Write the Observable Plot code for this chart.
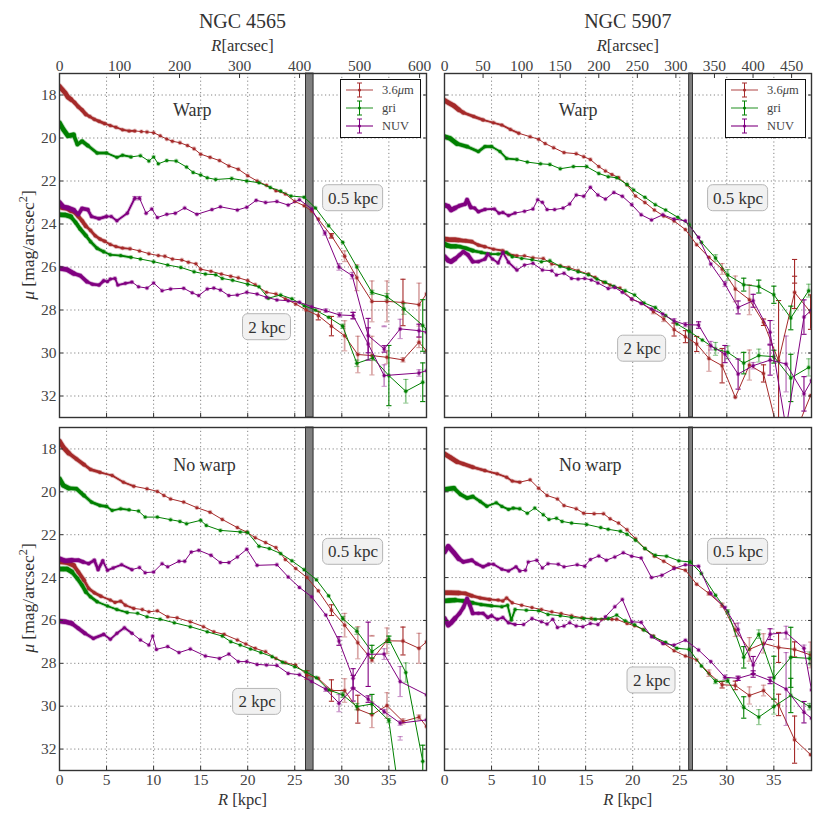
<!DOCTYPE html>
<html><head><meta charset="utf-8">
<script src="https://cdn.jsdelivr.net/npm/d3@7"></script>
<script src="https://cdn.jsdelivr.net/npm/@observablehq/plot@0.6"></script>
<style>
html,body{margin:0;padding:0;background:#fff}
#page{position:relative;width:830px;height:829px;overflow:hidden;font-family:"Liberation Serif",serif;color:#333}
.panel{position:absolute}
.lab{position:absolute;white-space:nowrap;transform:translate(-50%,-50%)}
.ylab{position:absolute;white-space:nowrap;transform:translate(-50%,-50%) rotate(-90deg);font-size:17.5px}
.legend{position:absolute;top:79px;width:79px;height:57px;border:1.3px solid #111;background:#fff;font-size:12.5px}
.legend svg{position:absolute;left:4px;top:0}
.legend span{position:absolute;left:41px;transform:translateY(-50%);color:#444}
sup{font-size:70%;line-height:0}
</style></head><body><div id="page"></div>
<script>
// Each point: [R kpc, mu, pale error, solid error]
// NGC 4565, warp side
const a36Upper=[[0,17.6],[.3,17.75],[.6,17.9],[.9,18.1],[1.2,18.2],[1.6,18.35],[2,18.55],[2.4,18.7],[2.8,18.9],[3.2,19],[3.7,19.13],[4.2,19.22],[4.8,19.33],[5.4,19.42],[6,19.5],[6.7,19.62],[7.4,19.67],[8,19.67],[8.7,19.7],[9.3,19.72],[10,19.75],[10.7,19.9],[11.4,20.05],[12,20.15],[12.8,20.22],[13.6,20.35],[14.3,20.5],[15,20.75],[16,20.9],[17,21.05],[18,21.3],[19,21.45],[20,21.75],[21,22],[22,22.2],[23,22.45],[24,22.6],[25,22.95],[26,23.15],[26.8,23.4],[27.5,23.77],[28.9,24.55,.1,.1],[30.3,25.5,.25,0],[31.6,26.5,.6,0],[33.2,27.6,.95,0],[34.8,27.6,.95,0],[36.5,27.65,0,1.08],[38.2,27.75,1,0],[39,27.25]];
const a36Lower=[[0,23.2],[.4,23.25],[.8,23.27],[1.2,23.38],[1.6,23.46],[2,23.65],[2.4,23.85],[2.8,24.1],[3.3,24.3],[3.8,24.55],[4.3,24.7],[4.8,24.8],[5.4,24.95],[6,25.05],[6.7,25.12],[7.5,25.15],[8.5,25.25],[9.5,25.38],[10.5,25.47],[11.2,25.5],[12,25.63],[13,25.67],[13.7,25.78],[14.5,25.85],[15,26.1],[16.1,26.2],[17.2,26.33],[18.2,26.43],[19,26.5],[20,26.63],[20.8,26.82],[22,27.18],[23,27.25],[24,27.48],[25.1,27.72],[26.2,28],[27.5,28.26,0,.2],[28.9,28.75,0,.45],[30.3,29.2,.7,0],[31.7,30.07,.85,0],[33.2,30.12,.9,0],[34.8,30.2,.3,0],[36.5,30.32,.1,0],[38.2,29.5,.25,0],[39,29.9]];
const aGriUpper=[[0,19.3],[.4,19.6],[.9,19.9],[1.5,19.85],[1.9,20.3],[2.4,20.15],[3,20.35],[4,20.7],[5,20.7],[6.1,20.9],[6.7,20.8],[7.6,20.88],[8.6,20.82],[9.5,21.07],[10,20.88],[10.5,21.2],[11.4,21.05],[12.4,21.07],[13.5,21.35],[14.2,21.6],[15,21.72],[15.7,21.85],[16.6,21.93],[18.3,21.88],[19.9,22],[21.2,22.08],[22.4,22.3],[23.5,22.47],[24.6,22.7],[26,22.75],[27.2,23.25],[28.6,24.08],[30.1,24.85],[31.6,26],[33.2,27.18,.1,0],[34.8,27.38,.15,0],[36.6,27.95,.25,0],[38.6,28.72,0,1.2],[39,28.9]];
const aGriLower=[[0,23.57],[.6,23.58],[1.2,23.66],[1.7,23.92],[2.2,24.23],[2.8,24.54],[3.3,24.82],[4,25.13],[4.7,25.29],[5.4,25.43],[6.5,25.47],[7.6,25.55],[8.6,25.63],[10,25.75],[11.5,25.91],[12.9,26.02],[14.3,26.22],[15.5,26.33],[16.6,26.36],[17.3,26.53],[18.4,26.62],[20,26.8],[21.2,26.92],[22.2,27.45],[23.5,27.3],[24.7,27.48],[26,27.8],[27.2,28],[28.6,28.34],[30.1,28.76,.1,0],[31.6,30.48,.15,0],[33.3,30.23,.12,0],[35,31.05,0,1.4],[36.8,31.78,.55,0],[38.6,31.36,0,.9]];
const aNuvUpper=[[0,23],[.4,23.2],[.9,23.25],[1.5,23.35],[2,23.55],[2.4,23.28],[3,23.33],[3.4,23.65],[4.2,23.75],[5,23.65],[5.5,23.65],[6.1,23.85],[7.2,23.5],[8,22.8,.08,0],[8.5,22.8,.08,0],[9.2,23.5],[9.8,23.3],[10.4,23.7],[11.4,23.55],[12.3,23.5],[13.3,23.25],[14.6,23.55],[16.2,23.33],[17.1,23.2],[18.9,23.35],[19.9,23.22],[20.9,22.9],[21.9,23],[23.1,22.95],[24.3,23.12],[25.5,22.87],[26.8,23.3],[28.2,24.42,.1,0],[29.7,26,.15,0],[31.1,26.4,.15,0],[32.8,29.19,0,.8],[34.5,29.81,0,.15],[36.2,28.88,.45,0],[38.2,28.96,0,.3],[39,29.04]];
const aNuvLower=[[0,26.06],[.8,26.12],[1.5,26.3],[2.2,26.4],[2.9,26.68],[3.5,26.8],[4.2,26.84],[4.7,26.64],[5.1,26.68],[5.4,26.56],[5.9,26.53],[6.2,26.84],[7,26.76],[7.7,26.7],[8.4,26.92],[9.3,26.98],[10,26.74],[10.9,27.1],[11.8,27.02],[13.2,26.99],[14.1,27.2],[14.8,27.33],[15.7,27.02],[16.4,26.98],[17.1,27.07],[18,27.33],[18.9,27.3],[19.9,27.18],[21,27.26],[22,27.41],[23.1,27.53],[24.3,27.57],[25.5,27.64],[26.8,27.85],[28.3,28.03,.08,0],[29.75,28.23,.1,0],[31.2,28.26,.15,.15],[32.8,29.58,0,.75],[34.5,31.05,.5,0],[38.2,30.93,.15,0],[39,30.82]];
// NGC 5907, warp side
const b36Upper=[[0,18.25],[.5,18.38],[1,18.5],[1.5,18.68],[2,18.82],[3.1,19],[4.1,19.16],[5.2,19.29],[6.1,19.4],[7,19.6],[7.9,19.78],[9.1,19.94],[10,20.06],[10.7,20.26],[11.6,20.45],[12.7,20.68],[14,20.73],[14.8,20.87],[15.5,21],[16.4,21.33],[17.1,21.53],[17.8,21.7],[18.5,21.84],[19.4,22.18],[20.3,22.7],[21.3,23],[22.3,23.35],[23.3,23.63],[24.4,23.86],[25.6,24.26],[26.8,24.96],[28.1,25.55],[29.5,26.09,.25,0],[30.9,27.02,.6,0],[32.4,27.52,.7,0],[33.9,28.57,0,.15],[35.5,30.36,0,2.8],[37.2,27.18,0,.75],[38.9,28.1,0,.8]];
const b36Lower=[[0,24.7],[.4,24.72],[.8,24.73],[1.1,24.73],[1.5,24.75],[1.9,24.77],[2.2,24.78],[2.9,24.82],[3.6,24.98],[4.3,25.06],[5.2,25.17],[6.2,25.24],[6.8,25.4],[7.7,25.48],[8.5,25.48],[9.4,25.57],[10.5,25.6],[11.4,25.86],[12.3,25.94],[13.2,26.02],[14.2,26.17],[15.3,26.33],[16,26.48],[16.9,26.71],[17.6,26.84],[18.65,26.98],[19.9,27.49],[21,27.69],[22.2,28.08,.1,0],[23.3,28.42,.12,0],[24.4,28.91,0,.3],[25.6,29.24,0,.28],[26.8,29.58,0,.35],[28.1,30.25,.6,0],[29.5,30.59,0,.8],[30.9,32.06],[32.4,30.56,.7,0],[33.9,30.95,0,.4],[35.5,33.8],[37.2,33.8],[38.9,31.98]];
const bGriUpper=[[0,19.94],[.6,20.02],[1.3,20.26],[2.4,20.4],[3.6,20.63],[4.3,20.4],[5,20.4],[5.9,20.63],[6.6,20.95],[7.7,21],[8.8,21.12],[10.2,21.2],[11.2,21.23],[12.3,21.43],[13.7,21.33],[15.1,21.33],[16.4,21.65],[17.4,21.8],[18.3,21.85],[19.4,22.16],[20.1,22.42],[21.3,22.76],[22.4,23.1],[23.5,23.35],[24.8,23.69],[26,24.03],[27.3,24.85],[28.8,25.58,.15,0],[30.1,26.37,.25,0],[31.8,26.82,0,.3],[33.4,26.91,0,.3],[35,27.29,0,.4],[36.8,28.37,0,.55],[38.7,27.1,.3,0]];
const bGriLower=[[0,24.93],[.3,25],[.7,25.04],[1.2,25.04],[1.6,25.05],[2.3,25.13],[3,25.24],[3.9,25.32],[4.8,25.4],[5.7,25.4],[6.6,25.32],[7.2,25.52],[8.2,25.6],[9.3,25.66],[10.3,25.75],[11.2,25.71],[12.3,25.97],[13.2,26.09],[14.2,26.22],[15.3,26.36],[16.2,26.56],[17.1,26.71],[18,26.9],[19.2,27.1],[20.2,27.3],[21.2,27.67],[22.4,27.88],[23.5,28.26],[24.7,28.65],[26,28.99],[27.4,29.4],[28.8,29.81,.3,0],[30.1,29.97,.3,0],[31.8,30.47,0,.5],[33.4,30.12,.3,0],[35,30.17,0,.3],[36.8,31.16,0,1.1],[38.7,30.67,.4,0]];
const bNuvUpper=[[0,23.12],[.4,23.18],[.7,23.35],[1.1,23.26],[1.6,23.15],[2.2,23.07],[2.4,22.87],[2.8,23.23],[3.2,23.26],[3.6,23.43],[4.3,23.32],[5.3,23.3],[5.8,23.5],[6.2,23.46],[6.8,23.61],[7.5,23.49],[8.5,23.41],[9.4,23.3],[9.9,22.87],[10.4,22.99],[10.9,23.33],[11.7,23.33],[12.6,23.26],[13.3,23.07],[14,22.65],[14.8,22.71],[15.5,22.29],[16.3,22.65],[17.1,22.84],[18,22.53],[18.9,22.71],[19.9,23.1],[20.9,23.57],[22,23.81],[23.2,23.57],[24.4,23.77],[25.6,23.85],[27,24.62],[28.3,25.86],[29.8,26.79,.12,0],[31.2,27.88,0,.3],[32.8,27.57,0,.3],[34.6,29.04,0,.55],[36.3,33.5],[38.2,28.33,0,.8],[39,28]];
const bNuvLower=[[0,25.52],[.4,25.7],[.7,25.75],[1.1,25.63],[1.6,25.44],[2,25.29],[2.5,25.44],[3,25.75],[3.6,25.75],[4.3,25.63],[4.6,25.4],[5.1,25.63],[5.7,25.81],[6.2,25.32],[6.8,25.78],[7.7,26.14],[8.5,25.91],[9.4,25.83],[10.4,26.14],[11.4,26.17],[11.9,26.37],[12.7,26.29],[13.5,26.53],[14.2,26.56],[14.9,26.53],[15.6,26.6],[16.3,26.74],[17.4,27],[18.1,26.95],[18.9,27.18],[19.9,27.49],[20.9,27.69],[22,27.95],[23.2,28.19],[24.4,28.5,.1,0],[25.6,28.68,.1,0],[27,28.7,0,.15],[28.3,29.66,.2,0],[29.8,30.05,0,.4],[31.2,30.98,0,.7],[32.8,30.59,.15,0],[34.6,30.33,0,.7],[36.3,30.51,1.3,0],[38.2,31.9,0,.8],[39,31.28]];
// NGC 4565, no-warp side
const c36Upper=[[0,17.64],[.4,17.92],[.96,18.19],[1.8,18.47],[2.6,18.73],[3.3,18.96],[4.3,19.09],[5.6,19.24],[6.8,19.55],[7.9,19.74],[9.3,19.86],[10.4,19.98],[11.1,20.17],[11.8,20.33],[13.2,20.48],[14.6,20.74],[16,20.95],[17.3,21.29],[18.9,21.67],[19.9,21.88],[20.8,22.14],[21.9,22.37],[23,22.6],[24,23.16],[25.1,23.58],[26.3,24],[27.5,24.62],[28.9,25.52,0,.25],[30.3,26.22,.55,0],[31.7,27.04,.75,0],[33.2,27.84,.1,0],[34.8,26.95,.6,0],[36.5,26.96,0,.65],[38.2,27.3,.7,0],[39,27]];
const c36Lower=[[0,23.27],[.4,23.28],[.8,23.3],[1.5,23.43],[2,23.74],[2.6,24.12],[3.1,24.51],[3.7,24.71],[4.4,24.87],[5.4,25.05],[5.9,25.16],[6.5,25.1],[7,25.29],[7.9,25.44],[8.8,25.49],[9.5,25.6],[10.4,25.55],[11.5,25.83],[12.5,25.88],[13.9,26.06],[15.3,26.29],[16.4,26.53],[17.5,26.65],[18.9,26.91],[19.8,27.1],[20.8,27.3],[21.9,27.46],[23,27.77],[24,27.97],[25.1,28.08],[26.3,28.54,0,.2],[27.5,28.7],[28.9,29.27,0,.5],[30.3,29.27,.55,0],[31.7,30.14,0,.65],[33.2,30.4,.6,0],[34.8,29.97,.6,0],[36.5,30.71,.12,0],[38.2,30.51,.1,0],[39,30.95]];
const cGriUpper=[[0,19.4],[.4,19.7],[.96,19.83],[1.8,19.86],[2.6,20.17],[3.4,20.48],[4.3,20.64],[5,20.68],[5.6,20.87],[6.5,20.79],[7.4,20.84],[8.4,20.9],[9.1,21.18],[10.4,21.18],[11.8,21.3],[12.8,21.38],[13.5,21.49],[15,21.33],[15.6,21.57],[17.1,21.8],[19.2,21.87],[20,21.9],[21.2,22.54],[22.3,22.65],[23.5,22.88],[24.7,23.22],[26,23.63],[27.3,24.1],[28.6,24.85],[30.1,25.91,.1,0],[31.6,26.5,.15,0],[33.2,27.46,0,.3],[35,26.88,0,.15],[36.8,28.43,.45,0],[38.6,32.57,0,.75]];
const cGriLower=[[0,23.6],[.4,23.6],[.8,23.6],[1.3,23.73],[1.9,24.05],[2.4,24.36],[2.8,24.67],[3.3,24.9],[4,25.13],[5.1,25.33],[6.1,25.49],[7.2,25.63],[8.3,25.67],[9.3,25.83],[10.7,25.94],[12.2,26.11],[13.9,26.29],[15.7,26.53],[17.3,26.73],[18.2,26.99],[19.2,27.15],[20.3,27.33],[21.4,27.5],[22.6,27.69],[23.7,27.95],[25,28.16],[26.2,28.4],[27.3,28.67],[28.6,29.24],[30.1,29.47,.12,0],[31.6,30.02,.15,0],[33.2,29.9,0,.45],[35,30.67,.1,0],[36.8,36.4]];
const cNuvUpper=[[0,23.12],[.6,23.22],[1.3,23.19],[2,23.19],[2.5,23.27],[3.1,23.35],[3.7,23.19],[4.1,23.63],[4.6,23.22],[5.1,23.66],[5.7,23.55],[6.6,23.4],[7.7,23.63],[8.5,23.53],[9.1,23.77],[10,23.74],[10.9,23.35],[11.5,23.5],[12.7,23.24],[13.3,23.24],[14,22.81],[14.8,22.73],[16.1,22.96],[17.1,23.3],[18,23.3],[18.9,23.04],[19.9,22.68],[21,23.43],[23.1,23.4],[24.3,23.97],[25.5,24.46],[26.8,24.9],[28.3,25.75],[29.7,26.96,0,.2],[31.2,28.7,0,.45],[32.8,27.58,0,1.5],[34.5,27.57,.25,0],[36.2,28.85,.7,0],[39,29.47]];
const cNuvLower=[[0,26.03],[.6,26.06],[1.3,26.14],[2,26.37],[2.7,26.6],[3.6,26.84],[4.7,26.65],[5.4,26.88],[6.1,26.6],[6.9,26.34],[7.7,26.6],[8.6,26.91],[9.5,27.15],[9.9,26.73],[10.3,27.35],[11.5,27.22],[12.7,27.5],[13.9,27.33],[15.5,27.66],[17,27.77],[18,27.57],[19,27.92],[19.9,27.92],[21,28.05],[22,28.08],[23.1,28.1],[24.3,28.47],[25.5,28.53],[26.8,28.85],[28.3,29.21,.1,0],[29.7,29.86,.4,0],[31.2,29.16,0,.6],[32.8,29.67,0,.15],[34.5,30.25,.1,0],[36.2,30.79,.1,0],[39,30.64]];
// NGC 5907, no-warp side
const d36Upper=[[0,18.23],[.6,18.39],[1.3,18.59],[2,18.7],[3,18.85],[4.3,19.01],[5.6,19.16],[6.6,19.32],[7.2,19.5],[8,19.55],[9.1,19.44],[10,19.83],[10.9,20.17],[12,20.33],[12.7,20.64],[14,20.79],[14.8,21],[15.9,21.02],[16.9,21.02],[17.6,21.26],[18.5,21.46],[19.4,21.77],[20.3,22.19],[21.3,22.65],[22.3,23],[23.3,23.24],[24.4,23.53],[25.6,23.66],[26.8,24.31],[28.1,24.74,.08,0],[29.5,25.29,.1,0],[30.9,26.45,.3,0],[32.4,27.35,.55,0],[33.9,27.07,.45,0],[35.5,27.26,0,.7],[37.2,27.35,0,.35],[38.9,27.61,.6,0]];
const d36Lower=[[0,24.71],[.35,24.71],[.7,24.71],[1.5,24.72],[2.2,24.74],[2.9,24.85],[3.8,24.95],[4.8,25.02],[5.7,25.05],[6.2,25.09],[6.6,24.95],[7.2,25.18],[8.2,25.29],[9.3,25.4],[10.3,25.49],[11.4,25.6],[12.4,25.68],[13.5,25.78],[14.6,25.88],[15.6,25.91],[16.7,25.95],[17.8,25.95],[18.3,25.95],[19.4,26.14],[20.2,26.25],[21.1,26.42],[22.2,26.73],[23.3,27.07],[24.4,27.41],[25.6,27.66],[26.8,27.84],[28.1,28.46,.15,0],[29.5,29,0,.15],[30.9,29.03,0,.2],[32.4,29.5,.4,0],[33.9,29.27,.25,0],[35.5,29.94,0,.5],[37.2,31.56,0,1.1],[38.9,32.26]];
const dGriUpper=[[0,19.89],[1,19.83],[1.7,20.12],[2.4,20.29],[3,20.22],[3.8,20.45],[4.5,20.67],[5.5,20.51],[6.1,20.68],[6.8,20.82],[7.3,20.76],[8,20.79],[8.8,21],[9.6,20.76],[10.5,21.07],[11.1,21.29],[11.9,21.23],[12.5,21.38],[13.5,21.46],[15.1,21.52],[16.6,21.67],[17.4,21.75],[18.7,21.84],[19.4,21.98],[20.3,22.26],[21.3,22.65],[22.4,22.96],[23.6,23],[24.9,23.22],[26.1,23.27],[27.3,23.81],[28.8,24.82],[30.1,25.6,.1,0],[31.8,27.72,0,.5],[33.4,26.64,.2,0],[35,28.67,0,1],[36.8,27.72,0,1.4],[38.8,27.77,.3,0]];
const dGriLower=[[0,25.09],[.5,25.07],[1.1,25.05],[2,25.09],[3,25.18],[3.9,25.26],[5,25.32],[6.1,25.36],[6.7,25.29],[7.1,25.98],[7.5,25.49],[8.7,25.52],[10,25.55],[11,25.72],[12.3,25.78],[13.5,25.86],[14.8,25.91],[16,25.94],[17.4,25.91],[18.3,25.75],[19.2,26.02],[20.2,26.2],[21.2,26.45],[22.2,26.76],[23.5,27.02],[24.7,27.3],[26,27.35],[27.3,28.12],[28.8,28.85,.1,0],[30.1,28.81,.1,0],[31.8,30.06,0,.5],[33.4,30.51,.35,0],[35,30.02,.35,0],[36.8,29.5,0,.8],[38.8,30.02,.15,0]];
const dNuvUpper=[[0,22.81],[.4,22.54],[1,22.84],[1.5,23.12],[2,23.27],[2.9,23.19],[3.4,23.35],[4.1,23.5],[4.7,23.38],[5.2,23.38],[6.1,23.61],[6.8,23.69],[7.6,23.5],[8,23.69],[8.6,23.66],[8.9,23.27],[9.8,23.19],[10.4,23.55],[11,23.35],[12.1,23.38],[12.7,23.5],[14.1,23.4],[14.9,23.47],[15.5,23.16],[16.4,22.99],[17.2,23.19],[18.1,23.04],[19,22.84],[19.9,23],[20.9,23.09],[22,24],[23.1,23.89],[24.4,23.58],[25.6,23.4],[27,23.47],[28.3,24.74],[29.8,25.4],[31.2,26.42,.3,0],[32.8,28.08,0,.4],[34.6,26.64,0,.25],[36.3,26.57,.3,0],[38.2,27.3,.15,0],[39,29.24]];
const dNuvLower=[[0,25.91],[.4,26.22],[.7,26.11],[1.1,25.91],[1.6,25.67],[2,25.4],[2.4,24.98],[2.7,25.29],[3,25.67],[3.6,25.67],[4.1,25.67],[4.6,25.86],[5,25.78],[5.6,25.95],[6.2,25.86],[6.8,26.11],[7.5,26.19],[8.4,26.19],[9.3,25.91],[10.3,26.06],[10.9,26.17],[11.5,25.95],[12,26.33],[12.7,26.26],[13.3,26.11],[14,26.26],[14.7,26.29],[15.5,26.14],[16.3,26.19],[17.1,25.83],[18.1,25.36],[18.9,25.02],[19.9,26.06],[20.9,26.09],[22,26.76],[23.2,27.07],[24.4,27.15],[25.6,26.92],[27,27.38],[28.3,27.92],[29.8,28.65,.1,0],[31.2,28.7,0,.1],[32.8,28.5,0,.15],[34.6,28.8,0,.15],[36.3,29.2,1.7,0],[38.2,30.28,0,.5],[39,30.56]];
// Isolated measurements with no line attached
const strayB36=[[37.2,26.2,0,.55]];
const strayC36=[[33.2,26.72,.02,0]];
const strayCNuv=[[36.2,31.5,.08,0]];
const strayANuv=[[34.5,28.76,.02,0]];

const titles=["NGC 4565","NGC 5907"];
const arcsecTicks=[[0,100,200,300,400,500,600],[0,50,100,150,200,250,300,350,400,450]];
const arcsecPerKpc=[15.68,12.2];
const kpcTicks=[0,5,10,15,20,25,30,35];
const muTicks=[18,20,22,24,26,28,30,32];
const cutBand=[[26.2,27],[26,26.4]];
const colors={ir:"#a52a2a",gri:"#008000",nuv:"#800080"};
const captions=[
 [{t:"Warp",R:14.1,mu:18.7},{t:"0.5 kpc",R:31.2,mu:22.8,box:1},{t:"2 kpc",R:22.05,mu:28.8,box:1}],
 [{t:"Warp",R:14.2,mu:18.7},{t:"0.5 kpc",R:31.2,mu:22.8,box:1},{t:"2 kpc",R:21,mu:29.8,box:1}],
 [{t:"No warp",R:15.4,mu:18.77},{t:"0.5 kpc",R:31.2,mu:22.8,box:1},{t:"2 kpc",R:21,mu:29.8,box:1}],
 [{t:"No warp",R:15.5,mu:18.77},{t:"0.5 kpc",R:31.2,mu:22.8,box:1},{t:"2 kpc",R:22,mu:28.8,box:1}]
];
const panels=[
 {col:0,row:0,sets:[["ir",a36Upper],["ir",a36Lower],["gri",aGriUpper],["gri",aGriLower],["nuv",aNuvUpper],["nuv",aNuvLower]],stray:[["nuv",strayANuv]]},
 {col:1,row:0,sets:[["ir",b36Upper],["ir",b36Lower],["gri",bGriUpper],["gri",bGriLower],["nuv",bNuvUpper],["nuv",bNuvLower]],stray:[["ir",strayB36]]},
 {col:0,row:1,sets:[["ir",c36Upper],["ir",c36Lower],["gri",cGriUpper],["gri",cGriLower],["nuv",cNuvUpper],["nuv",cNuvLower]],stray:[["ir",strayC36],["nuv",strayCNuv]]},
 {col:1,row:1,sets:[["ir",d36Upper],["ir",d36Lower],["gri",dGriUpper],["gri",dGriLower],["nuv",dNuvUpper],["nuv",dNuvLower]],stray:[]}
];

const page=document.getElementById("page");
const FONT='"Liberation Serif",serif';
const capSym={draw(ctx){ctx.moveTo(-2.6,0);ctx.lineTo(2.6,0);}};
const taper=[[1.5,4.4],[3,3.4],[5,2.5],[8,1.7]];

function errMarks(arr,color,idx,op,sw){
  const d=arr.filter(p=>p[idx]>0);
  const common={clip:true,stroke:color,strokeOpacity:op};
  return [
    Plot.ruleX(d,{x:p=>p[0],y1:p=>p[1]-p[idx],y2:p=>p[1]+p[idx],strokeWidth:sw,...common}),
    Plot.dot(d,{x:p=>p[0],y:p=>p[1]-p[idx],symbol:capSym,r:3,fill:"none",strokeWidth:1.1,...common}),
    Plot.dot(d,{x:p=>p[0],y:p=>p[1]+p[idx],symbol:capSym,r:3,fill:"none",strokeWidth:1.1,...common})
  ];
}
function seriesMarks([key,arr]){
  const c=colors[key];
  const xy={x:p=>p[0],y:p=>p[1],clip:true};
  return [
    ...taper.map(([lim,w])=>Plot.line(arr.filter(p=>p[0]<=lim),{...xy,stroke:c,strokeOpacity:.22,strokeWidth:w+2})),
    ...errMarks(arr,c,2,.42,1.7),
    Plot.line(arr,{...xy,stroke:c,strokeWidth:1}),
    Plot.dot(arr,{...xy,r:2.4,fill:c,fillOpacity:.3,stroke:"none"}),
    Plot.dot(arr,{...xy,r:1.5,fill:c,stroke:"none"}),
    ...taper.map(([lim,w])=>Plot.line(arr.filter(p=>p[0]<=lim),{...xy,stroke:c,strokeWidth:w})),
    ...errMarks(arr,c,3,1,1.1)
  ];
}
panels.forEach((pn,i)=>{
  const caps=captions[i];
  const boxes=caps.filter(d=>d.box);
  const plain=caps.filter(d=>!d.box);
  const halfW=d=>d.t.length>5?3.19:2.55;
  const topAxis=pn.row===0
    ? Plot.axisX({anchor:"top",ticks:arcsecTicks[pn.col].map(a=>a/arcsecPerKpc[pn.col]),tickFormat:d=>Math.round(d*arcsecPerKpc[pn.col]),tickSize:-4,tickPadding:7,label:null,fontSize:15.5,fill:"#444"})
    : null;
  const fig=Plot.plot({
    width:430,height:pn.row===0?404:403,
    marginLeft:59,marginRight:4,marginTop:30,marginBottom:30,
    style:{fontFamily:FONT,background:"none",overflow:"visible"},
    x:{domain:[0,39],label:null},
    y:{domain:[33,17],label:null},
    marks:[
      Plot.gridX(kpcTicks,{stroke:"#555",strokeOpacity:.9,strokeWidth:.8,strokeDasharray:"1.2,2.6"}),
      Plot.gridY(muTicks,{stroke:"#555",strokeOpacity:.9,strokeWidth:.8,strokeDasharray:"1.2,2.6"}),
      Plot.rect([cutBand[pn.col]],{x1:d=>d[0],x2:d=>d[1],y1:33,y2:17,fill:"#808080",stroke:"#222",strokeWidth:.9}),
      ...pn.sets.flatMap(seriesMarks),
      ...pn.stray.flatMap(([k,a])=>errMarks(a,colors[k],a[0][2]>0?2:3,a[0][2]>0?.42:1,1.1)),
      Plot.rect(boxes,{x1:d=>d.R-halfW(d),x2:d=>d.R+halfW(d),y1:d=>d.mu-.605,y2:d=>d.mu+.605,rx:5,fill:"#f1f1f1",stroke:"#b5b5b5",strokeWidth:1}),
      Plot.text(boxes,{x:"R",y:"mu",text:"t",fontSize:17,fill:"#333"}),
      Plot.text(plain,{x:"R",y:"mu",text:"t",fontSize:18,fill:"#333"}),
      Plot.axisX({anchor:"bottom",ticks:kpcTicks,tickSize:-4,tickPadding:7,label:null,fontSize:15.5,fill:"#444",tickFormat:pn.row===1?(d=>d):(()=>"")}),
      topAxis,
      Plot.axisY({anchor:"left",ticks:muTicks,tickSize:-4,tickPadding:7,label:null,fontSize:15.5,fill:"#444",tickFormat:pn.col===0?(d=>d):(()=>"")}),
      Plot.axisY({anchor:"right",ticks:muTicks,tickSize:-4,tickPadding:7,label:null,tickFormat:()=>""}),
      Plot.frame({stroke:"#333",strokeWidth:1.4})
    ]
  });
  fig.classList.add("panel");
  fig.style.left=(pn.col===0?0:385)+"px";
  fig.style.top=(pn.row===0?43:397)+"px";
  page.appendChild(fig);
});
function addLabel(cls,x,y,html,size){
  const el=document.createElement("div");
  el.className=cls;el.style.left=x+"px";el.style.top=y+"px";
  if(size)el.style.fontSize=size+"px";
  el.innerHTML=html;page.appendChild(el);
}
[[242.5,titles[0]],[627.8,titles[1]]].forEach(([cx,t])=>{
  addLabel("lab",cx,21,t,20);
  addLabel("lab",cx,46,"<i>R</i>[arcsec]",16.5);
  addLabel("lab",cx,800,"<i>R</i> [kpc]",16.5);
});
addLabel("ylab",28,245,"<i>μ</i> [mag/arcsec<sup>2</sup>]");
addLabel("ylab",28,598,"<i>μ</i> [mag/arcsec<sup>2</sup>]");
[340,725].forEach(left=>{
  const box=document.createElement("div");box.className="legend";box.style.left=left+"px";
  const rows=[["ir",'3.6<i>μ</i>m',.55,10],["gri","gri",.55,28],["nuv","NUV",1,46]];
  box.innerHTML=rows.map(([k,t,o,y])=>`<svg width="30" height="${y+12}"><line x1="1" x2="28" y1="${y}" y2="${y}" stroke="${colors[k]}" stroke-opacity="${o}" stroke-width="${o<1?1.6:1.1}"/><line x1="14.5" x2="14.5" y1="${y-7}" y2="${y+7}" stroke="${colors[k]}"/><line x1="12" x2="17" y1="${y-7}" y2="${y-7}" stroke="${colors[k]}"/><line x1="12" x2="17" y1="${y+7}" y2="${y+7}" stroke="${colors[k]}"/><circle cx="14.5" cy="${y}" r="1.5" fill="${colors[k]}"/></svg><span style="top:${y}px">${t}</span>`).join("");
  page.appendChild(box);
});
</script></body></html>
